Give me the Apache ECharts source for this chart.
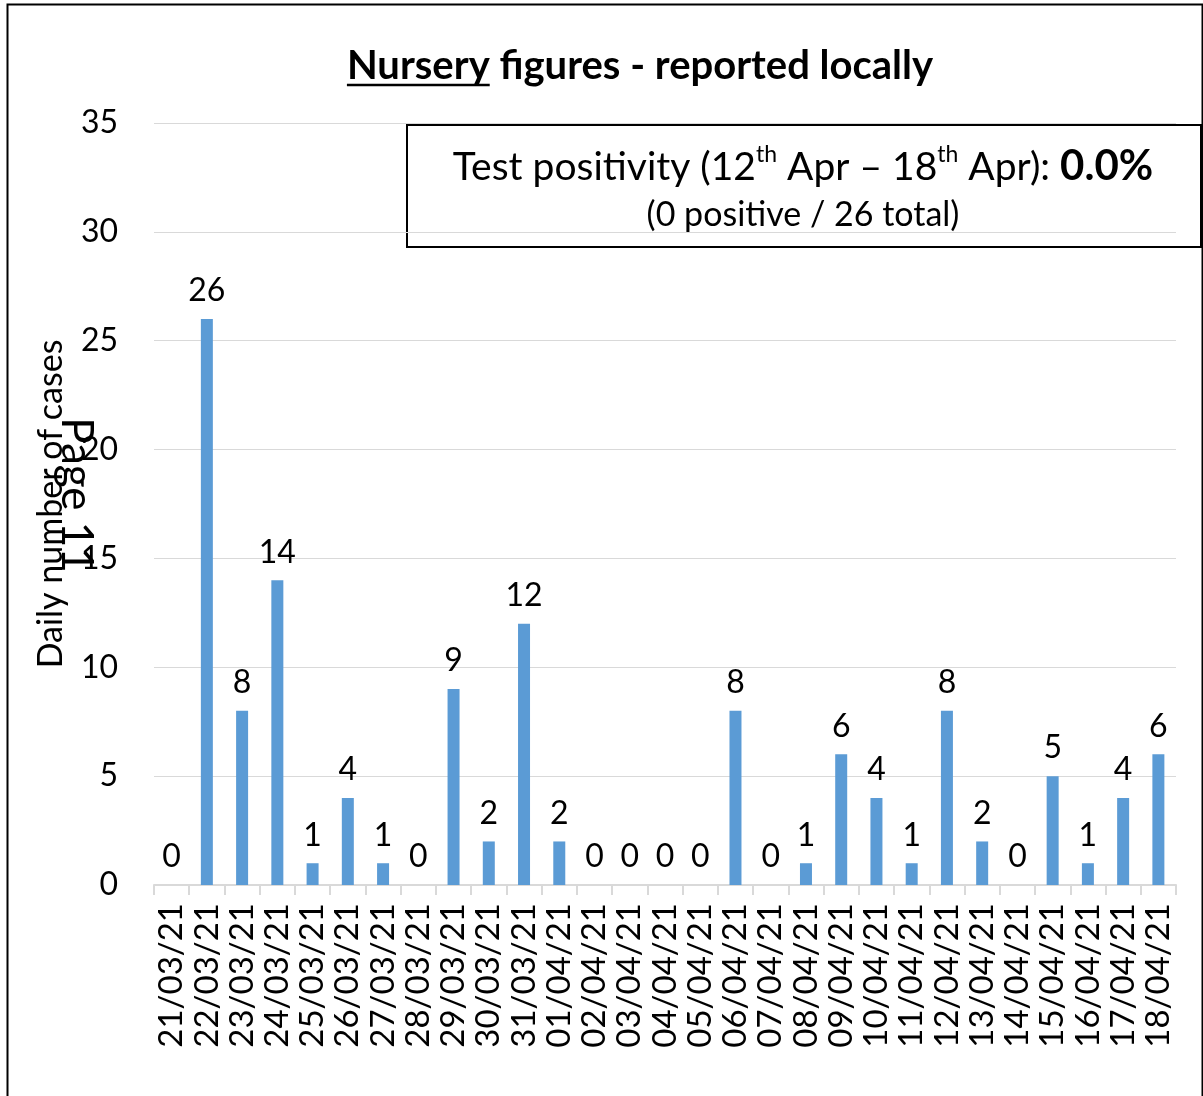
<!DOCTYPE html>
<html>
<head>
<meta charset="utf-8">
<script src="https://cdn.jsdelivr.net/npm/echarts@6/dist/echarts.min.js"></script>
<style>
  html, body { margin: 0; padding: 0; background: #fff; }
  #chart { width: 1203px; height: 1096px; }
</style>
</head>
<body>
<div id="chart"></div>
<script>
const dates = [
  '21/03/21', '22/03/21', '23/03/21', '24/03/21', '25/03/21', '26/03/21', '27/03/21',
  '28/03/21', '29/03/21', '30/03/21', '31/03/21', '01/04/21', '02/04/21', '03/04/21',
  '04/04/21', '05/04/21', '06/04/21', '07/04/21', '08/04/21', '09/04/21', '10/04/21',
  '11/04/21', '12/04/21', '13/04/21', '14/04/21', '15/04/21', '16/04/21', '17/04/21',
  '18/04/21'
];
const cases = [0, 26, 8, 14, 1, 4, 1, 0, 9, 2, 12, 2, 0, 0, 0, 0, 8, 0, 1, 6, 4, 1, 8, 2, 0, 5, 1, 4, 6];

const font = 'Lato, "Open Sans", sans-serif';
const titleFont = 'bold 40px ' + font;

// width of the underlined word in the title
const ctx = document.createElement('canvas').getContext('2d');
ctx.font = titleFont;
const underlineW = ctx.measureText('Nursery').width;
const titleW = ctx.measureText('Nursery figures - reported locally').width;
const titleX = 640 - titleW / 2;

const chart = echarts.init(document.getElementById('chart'));

chart.setOption({
  animation: false,
  grid: { left: 154, right: 27, top: 123, bottom: 211, containLabel: false },
  xAxis: {
    type: 'category',
    data: dates,
    axisLine: { lineStyle: { color: '#d9d9d9', width: 2 } },
    axisTick: { show: true, length: 10, lineStyle: { color: '#d9d9d9', width: 2 } },
    axisLabel: { rotate: 90, color: '#000', fontSize: 33, fontFamily: font, margin: 18, interval: 0 }
  },
  yAxis: {
    type: 'value',
    min: 0,
    max: 35,
    interval: 5,
    axisLine: { show: false },
    axisTick: { show: false },
    splitLine: { lineStyle: { color: '#d9d9d9', width: 1 } },
    axisLabel: { color: '#000', fontSize: 32, fontFamily: font, margin: 36 },
    name: 'Daily number of cases',
    nameLocation: 'middle',
    nameGap: 86,
    nameTextStyle: { color: '#000', fontSize: 34, fontFamily: font }
  },
  series: [{
    type: 'bar',
    data: cases,
    barWidth: 12,
    itemStyle: { color: '#5b9bd5' },
    label: { show: true, position: 'top', distance: 12, color: '#000', fontSize: 32, fontFamily: font }
  }],
  graphic: [
    {
      type: 'rect', left: 5, top: 2, silent: true,
      shape: { width: 1195, height: 1100 },
      style: { fill: 'none', stroke: '#000', lineWidth: 2 }
    },
    {
      type: 'text', x: titleX, y: 66, silent: true,
      style: {
        text: 'Nursery figures - reported locally',
        fill: '#000', font: titleFont,
        textAlign: 'left', textVerticalAlign: 'middle'
      }
    },
    {
      type: 'line', silent: true,
      shape: { x1: titleX, y1: 85, x2: titleX + underlineW, y2: 85 },
      style: { stroke: '#000', lineWidth: 2.5 }
    },
    {
      type: 'rect', left: 406, top: 124, silent: true,
      shape: { width: 794, height: 122 },
      style: { fill: '#fff', stroke: '#000', lineWidth: 2 }
    },
    {
      type: 'text', x: 803, y: 165, silent: true,
      style: {
        text: '{n|Test positivity (12}{s|th}{n| Apr – 18}{s|th}{n| Apr): }{b|0.0%}',
        textAlign: 'center', textVerticalAlign: 'middle',
        rich: {
          n: { fontSize: 39, fontFamily: font, fill: '#000', lineHeight: 44, verticalAlign: 'bottom' },
          s: { fontSize: 23, fontFamily: font, fill: '#000', lineHeight: 44, verticalAlign: 'top' },
          b: { fontSize: 42, fontFamily: font, fontWeight: 'bold', fill: '#000', lineHeight: 44, verticalAlign: 'bottom' }
        }
      }
    },
    {
      type: 'text', x: 803, y: 215, silent: true,
      style: {
        text: '(0 positive / 26 total)',
        fill: '#000', font: '34px ' + font,
        textAlign: 'center', textVerticalAlign: 'middle'
      }
    },
    {
      type: 'text', x: 76, y: 495, rotation: -Math.PI / 2, silent: true,
      style: {
        text: 'Page 11',
        fill: '#000', font: '44px ' + font,
        textAlign: 'center', textVerticalAlign: 'middle'
      }
    }
  ]
});
</script>
</body>
</html>
